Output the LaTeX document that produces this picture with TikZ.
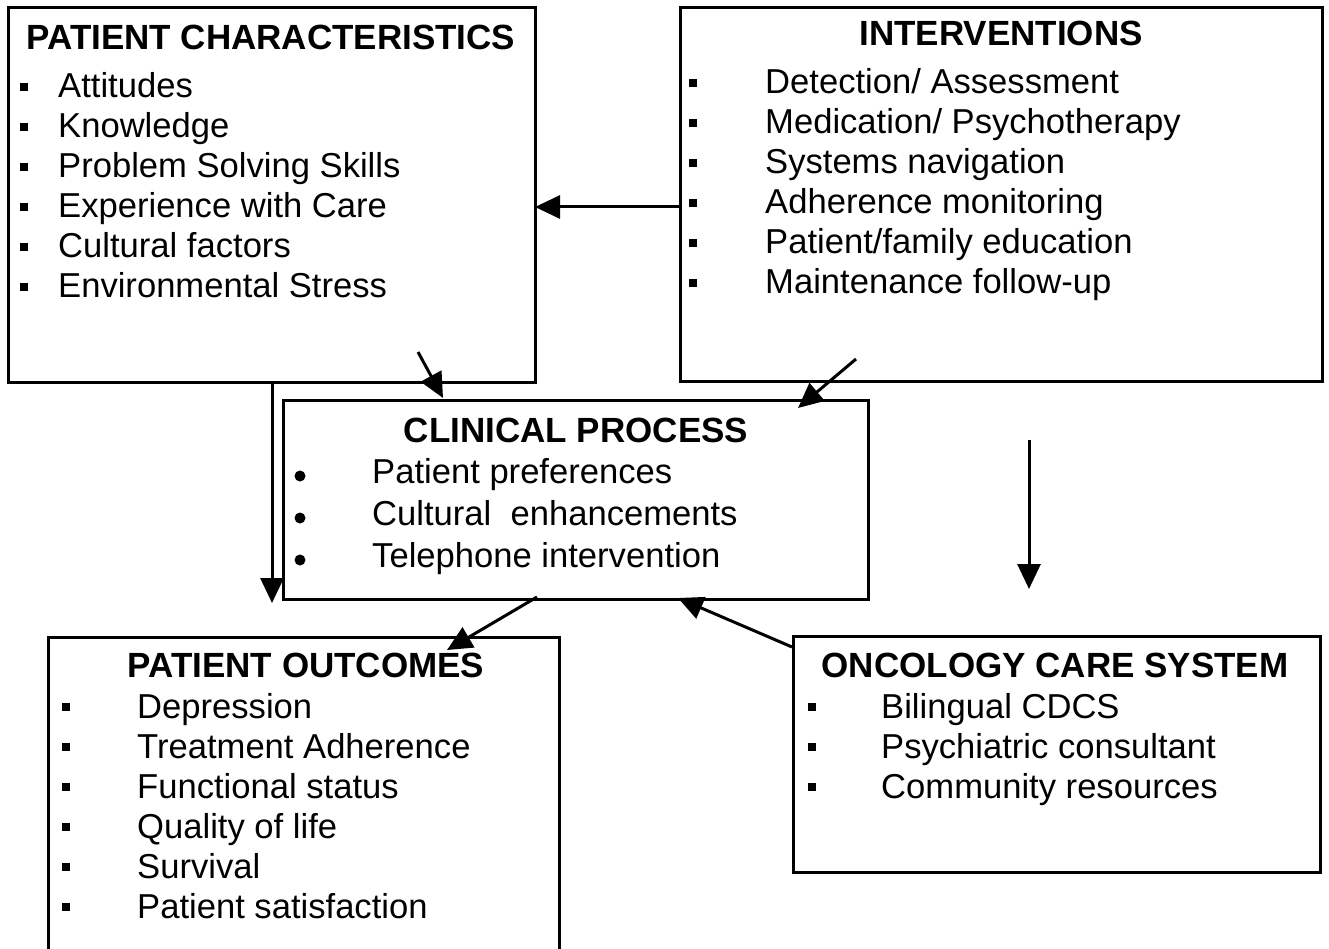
\documentclass[tikz,border=0pt]{standalone}
\usepackage{fontspec}
\setmainfont{Liberation Sans}
\usetikzlibrary{arrows.meta}
\begin{document}
\begin{tikzpicture}[x=1pt,y=-1pt,
 box/.style={draw, line width=3pt, anchor=north west, inner sep=0pt, outer sep=0pt},
 ttl/.style={anchor=base, inner sep=0pt, font=\fontsize{35}{40}\selectfont\bfseries},
 itm/.style={anchor=base west, inner sep=0pt, font=\fontsize{34.6}{40}\selectfont},
 sq/.style={fill, minimum size=8pt, inner sep=0pt},
 rdot/.style={circle, fill, minimum size=11pt, inner sep=0pt},
 arr/.style={line width=3pt, -{Triangle[length=25pt,width=23pt]}}]
\useasboundingbox (0,0) rectangle (1329,949);

% boxes
\node[box, minimum width=527pt, minimum height=374pt] (pc) at (8,8) {};
\node[box, minimum width=642pt, minimum height=373pt] (iv) at (680,8) {};
\node[box, minimum width=585pt, minimum height=199pt] (cp) at (283,400) {};
\node[box, minimum width=511pt, minimum height=320pt] (po) at (48,637) {};
\node[box, minimum width=527pt, minimum height=236pt] (oc) at (793,636) {};

% titles
\node[ttl] (pct) at (271,50) {PATIENT CHARACTERISTICS};
\node[ttl] (ivt) at (1001,46) {INTERVENTIONS};
\node[ttl] (cpt) at (576,442) {CLINICAL PROCESS};
\node[ttl] (pot) at (306,677) {PATIENT OUTCOMES};
\node[ttl] (oct) at (1055,677) {ONCOLOGY CARE SYSTEM};

% patient characteristics
\foreach \t [count=\i] in {Attitudes, Knowledge, Problem Solving Skills, Experience with Care, Cultural factors, Environmental Stress}{
  \node[itm] (pc\i) at (58,58+40*\i) {\t};
  \node[sq] (pcb\i) at (24,47+40*\i) {};
}
% interventions
\foreach \t [count=\i] in {Detection/ Assessment, Medication/ Psychotherapy, Systems navigation, Adherence monitoring, Patient/family education, Maintenance follow-up}{
  \node[itm] (iv\i) at (765,54+40*\i) {\t};
  \node[sq] (ivb\i) at (693,43+40*\i) {};
}
% clinical process
\foreach \t [count=\i] in {Patient preferences, Cultural\ \ enhancements, Telephone intervention}{
  \node[itm] (cp\i) at (372,441+42*\i) {\t};
  \node[rdot] (cpb\i) at (300,434+42*\i) {};
}
% patient outcomes
\foreach \t [count=\i] in {Depression, Treatment Adherence, Functional status, Quality of life, Survival, Patient satisfaction}{
  \node[itm] (po\i) at (137,678+40*\i) {\t};
  \node[sq] (pob\i) at (66,667+40*\i) {};
}
% oncology care system
\foreach \t [count=\i] in {Bilingual CDCS, Psychiatric consultant, Community resources}{
  \node[itm] (oc\i) at (881,678+40*\i) {\t};
  \node[sq] (ocb\i) at (812,667+40*\i) {};
}

% connector end points
\coordinate (a2s) at (418,352);
\coordinate (a2e) at (443,398);
\coordinate (a3s) at (856,359);
\coordinate (a3e) at (798,408);
\coordinate (a4e) at (272,603);
\coordinate (a5s) at (537,597);
\coordinate (a5e) at (447,650);
\coordinate (a6s) at (792,647);
\coordinate (a6e) at (678,598);
\coordinate (a7s) at (1029,440);
\coordinate (a7e) at (1029,589);

% connectors
\draw[arr] (iv.west |- 0,207) -- (pc.east |- 0,207);
\draw[arr] (a2s) -- (a2e);
\draw[arr] (a3s) -- (a3e);
\draw[arr] (pc.south -| a4e) -- (a4e);
\draw[arr] (a5s) -- (a5e);
\draw[arr] (a6s) -- (a6e);
\draw[arr] (a7s) -- (a7e);
\end{tikzpicture}
\end{document}
